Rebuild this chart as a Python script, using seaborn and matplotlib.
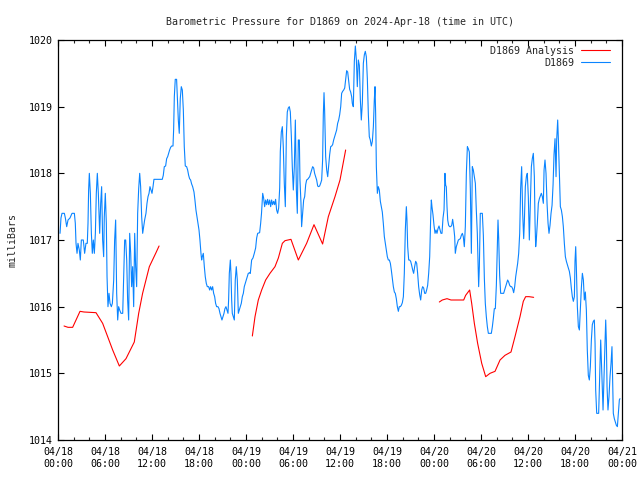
import numpy as np
import pandas as pd
import seaborn as sns
import matplotlib
matplotlib.use("Agg")
import matplotlib.pyplot as plt
from matplotlib.ticker import MultipleLocator

# hours since 04/18 00:00 UTC, pressure in mb
blue_hours = [
    0.26, 0.38, 0.51, 0.81, 0.94, 1.11, 1.28, 1.53, 1.79, 2.09, 2.21, 2.30, 2.43, 2.55, 2.72, 2.85,
    2.98, 3.23, 3.40, 3.57, 3.74, 3.83, 3.91, 4.00, 4.13, 4.26, 4.38, 4.51, 4.64, 4.77, 4.89, 5.02,
    5.15, 5.32, 5.45, 5.57, 5.70, 5.83, 5.91, 6.04, 6.17, 6.26, 6.38, 6.51, 6.64, 6.81, 6.94, 7.11,
    7.23, 7.36, 7.49, 7.62, 7.74, 7.87, 8.04, 8.26, 8.38, 8.51, 8.64, 8.77, 8.89, 9.02, 9.15, 9.28,
    9.40, 9.53, 9.66, 9.79, 9.91, 10.04, 10.17, 10.30, 10.43, 10.55, 10.68, 10.81, 10.94, 11.06,
    11.23, 11.36, 11.49, 11.62, 11.74, 11.87, 12.00, 12.13,
    12.25, 13.31, 13.44, 13.57, 13.74, 13.87, 14.00, 14.12, 14.25, 14.38, 14.51, 14.68, 14.76,
    14.85, 14.97, 15.14, 15.23, 15.36, 15.48, 15.61, 15.74, 15.87, 16.00, 16.12, 16.25, 16.42,
    16.55, 16.68, 16.80, 16.93, 17.06, 17.19, 17.36, 17.48, 17.61, 17.74, 17.87, 18.00, 18.12,
    18.25, 18.34, 18.42, 18.55, 18.68, 18.80, 18.93, 19.06, 19.23, 19.36, 19.48, 19.61, 19.74,
    19.87, 20.00, 20.12, 20.25, 20.42, 20.55, 20.68, 20.80, 20.93, 21.06, 21.19, 21.31, 21.44,
    21.57, 21.70, 21.78, 21.87, 22.00, 22.08, 22.17, 22.25, 22.38, 22.51, 22.63, 22.76, 22.89,
    23.02, 23.14, 23.27, 23.40, 23.53, 23.66, 23.78, 23.91, 24.04, 24.17, 24.29, 24.51,
    24.55, 24.72, 24.89, 25.06, 25.23, 25.36, 25.49, 25.74, 25.87, 25.98, 26.13, 26.25, 26.38,
    26.51, 26.64, 26.76, 26.89, 27.02, 27.15, 27.27, 27.40, 27.53, 27.66, 27.78, 27.91, 28.04,
    28.17, 28.30, 28.38, 28.51, 28.64, 28.76, 28.89, 29.02, 29.15, 29.27, 29.40, 29.53, 29.66,
    29.79, 29.91, 30.04, 30.17, 30.30, 30.43, 30.55, 30.68, 30.81, 30.89, 31.02, 31.10, 31.23,
    31.36, 31.49, 31.62, 31.74, 31.87, 32.00, 32.13, 32.25, 32.38, 32.51, 32.64, 32.76, 32.89,
    33.02, 33.15, 33.27, 33.40, 33.53, 33.66, 33.78, 33.87, 33.96, 34.04, 34.17, 34.30, 34.43,
    34.55, 34.68, 34.81, 34.94, 35.06, 35.19, 35.32, 35.45, 35.57, 35.70, 35.83, 35.96, 36.09,
    36.21, 36.34, 36.47, 36.60,
    36.72, 36.85, 36.98, 37.11, 37.23, 37.36, 37.49, 37.57, 37.70, 37.83, 37.96, 38.09, 38.21,
    38.34, 38.47, 38.60, 38.72, 38.85, 38.98, 39.11, 39.23, 39.36, 39.49, 39.62, 39.74, 39.87,
    40.00, 40.13, 40.26, 40.38, 40.47, 40.55, 40.64, 40.77, 40.89, 41.02, 41.15, 41.28, 41.40,
    41.53, 41.66, 41.79, 41.91, 42.04, 42.17, 42.30, 42.43, 42.55, 42.68, 42.81, 42.94, 43.06,
    43.19, 43.32, 43.45, 43.57, 43.70, 43.83, 43.96, 44.09, 44.21, 44.34, 44.47, 44.55, 44.64,
    44.77, 44.89, 45.02, 45.15, 45.28, 45.40, 45.53, 45.66, 45.79, 45.91, 46.04, 46.17, 46.30,
    46.43, 46.55, 46.68, 46.81, 46.94, 47.06, 47.19, 47.32, 47.45, 47.57, 47.66, 47.74, 47.87,
    48.00, 48.13,
    48.26, 48.38, 48.51, 48.64, 48.77, 48.89, 49.02, 49.15, 49.28, 49.40, 49.49, 49.57, 49.66,
    49.75, 49.87, 50.00, 50.13, 50.26, 50.38, 50.51, 50.64, 50.72, 50.85, 50.98, 51.11, 51.23,
    51.36, 51.49, 51.62, 51.74, 51.87, 52.00, 52.13, 52.26, 52.38, 52.51, 52.64, 52.77, 52.89,
    53.02, 53.15, 53.28, 53.40, 53.53, 53.62, 53.70, 53.79, 53.91, 54.04, 54.17, 54.30, 54.43,
    54.55, 54.68, 54.81, 54.94, 55.06, 55.19, 55.32, 55.45, 55.57, 55.70, 55.83, 55.96, 56.09,
    56.17, 56.26, 56.38, 56.51, 56.64, 56.77, 56.89, 57.02, 57.15, 57.28, 57.40, 57.53, 57.66,
    57.79, 57.91, 58.04, 58.17, 58.30, 58.43, 58.55, 58.68, 58.81, 58.94, 59.06, 59.19, 59.32,
    59.45, 59.53, 59.66, 59.79, 59.91, 60.04, 60.17, 60.30, 60.43, 60.55, 60.68,
    60.81, 60.90, 60.98, 61.06, 61.19, 61.32, 61.45, 61.57, 61.70, 61.83, 61.96, 62.05, 62.17,
    62.30, 62.43, 62.56, 62.68, 62.81, 62.94, 63.07, 63.20, 63.32, 63.45, 63.58, 63.66, 63.79,
    63.88, 64.00, 64.13, 64.26, 64.39, 64.51, 64.64, 64.77, 64.90, 65.02, 65.15, 65.28, 65.41,
    65.53, 65.66, 65.79, 65.92, 66.00, 66.09, 66.17, 66.30, 66.43, 66.56, 66.68, 66.81, 66.94,
    67.07, 67.19, 67.32, 67.45, 67.57, 67.70, 67.83, 67.96, 68.09, 68.21, 68.34, 68.47, 68.56,
    68.64, 68.77, 68.90, 69.02, 69.15, 69.28, 69.36, 69.49, 69.58, 69.70, 69.83, 69.92, 70.00,
    70.09, 70.21, 70.34, 70.47, 70.60, 70.72, 70.81, 70.89, 71.02, 71.15, 71.28, 71.41, 71.53,
    71.66, 71.74,
]
blue_mb = [
    1017.10, 1017.33, 1017.40, 1017.40, 1017.33, 1017.20, 1017.30, 1017.33, 1017.40, 1017.40, 1017.25, 1016.95, 1016.80, 1016.95, 1016.85, 1016.70,
    1017.00, 1017.00, 1016.80, 1016.95, 1016.95, 1017.25, 1017.75, 1018.00, 1017.70, 1017.10, 1016.80, 1017.00, 1016.80, 1017.10, 1017.70, 1018.00,
    1017.70, 1017.10, 1017.55, 1017.80, 1017.00, 1016.75, 1017.35, 1017.70, 1017.25, 1016.45, 1016.00, 1016.20, 1016.05, 1016.00, 1016.05, 1016.40,
    1017.00, 1017.30, 1016.20, 1015.80, 1016.00, 1015.95, 1015.90, 1015.90, 1016.45, 1017.00, 1017.00, 1016.70, 1016.10, 1015.80, 1017.10, 1016.80,
    1016.30, 1016.60, 1016.00, 1017.10, 1016.60, 1016.30, 1017.40, 1017.77, 1018.00, 1017.80, 1017.35, 1017.10, 1017.20, 1017.30,
    1017.40, 1017.55, 1017.65, 1017.70, 1017.80, 1017.75, 1017.70, 1017.80,
    1017.91, 1017.91, 1017.97, 1018.10, 1018.11, 1018.22, 1018.25, 1018.30, 1018.35, 1018.39, 1018.41, 1018.41, 1018.65,
    1019.15, 1019.41, 1019.41, 1019.17, 1018.80, 1018.60, 1019.12, 1019.30, 1019.25, 1018.95, 1018.40, 1018.11, 1018.10,
    1018.05, 1017.97, 1017.92, 1017.90, 1017.84, 1017.80, 1017.72, 1017.60, 1017.45, 1017.35, 1017.25, 1017.15, 1017.00,
    1016.80, 1016.70, 1016.75, 1016.80, 1016.60, 1016.45, 1016.35, 1016.30, 1016.30, 1016.25, 1016.30, 1016.25, 1016.30,
    1016.20, 1016.15, 1016.05, 1016.00, 1016.00, 1015.97, 1015.90, 1015.85, 1015.80, 1015.85, 1015.90, 1015.97, 1016.00,
    1015.95, 1015.90, 1016.10, 1016.50, 1016.70, 1016.50, 1016.10, 1015.90, 1015.85, 1015.80, 1016.40, 1016.60, 1016.40,
    1015.90, 1015.95, 1016.00, 1016.05, 1016.15, 1016.20, 1016.30, 1016.35, 1016.40, 1016.45, 1016.50, 1016.51,
    1016.50, 1016.70, 1016.73, 1016.80, 1016.88, 1017.03, 1017.10, 1017.11, 1017.25, 1017.40, 1017.70, 1017.63, 1017.50,
    1017.60, 1017.53, 1017.61, 1017.53, 1017.60, 1017.50, 1017.60, 1017.53, 1017.58, 1017.53, 1017.61, 1017.45, 1017.40,
    1017.48, 1017.78, 1018.33, 1018.62, 1018.70, 1018.40, 1017.85, 1017.50, 1018.55, 1018.92, 1018.98, 1019.00, 1018.92,
    1018.55, 1018.10, 1017.75, 1018.10, 1018.80, 1017.75, 1017.40, 1018.50, 1018.50, 1017.90, 1017.55, 1017.20, 1017.40,
    1017.60, 1017.65, 1017.83, 1017.90, 1017.91, 1017.93, 1017.95, 1018.00, 1018.05, 1018.10, 1018.08, 1018.00, 1017.95,
    1017.90, 1017.81, 1017.80, 1017.81, 1017.85, 1017.90, 1018.20, 1018.88, 1019.21, 1018.93, 1018.25, 1018.05, 1017.95,
    1018.10, 1018.28, 1018.40, 1018.41, 1018.43, 1018.50, 1018.55, 1018.60, 1018.65, 1018.75, 1018.80, 1018.88, 1019.00,
    1019.20, 1019.23, 1019.25, 1019.28,
    1019.40, 1019.54, 1019.52, 1019.38, 1019.26, 1019.22, 1019.15, 1019.05, 1019.00, 1019.68, 1019.91, 1019.70, 1019.30,
    1019.70, 1019.62, 1019.10, 1018.80, 1019.05, 1019.65, 1019.78, 1019.83, 1019.75, 1019.42, 1018.88, 1018.55, 1018.50,
    1018.41, 1018.48, 1018.70, 1019.10, 1019.30, 1018.90, 1018.10, 1017.70, 1017.80, 1017.75, 1017.58, 1017.50, 1017.42,
    1017.25, 1017.05, 1016.95, 1016.85, 1016.75, 1016.70, 1016.70, 1016.65, 1016.55, 1016.42, 1016.30, 1016.22, 1016.20,
    1016.12, 1016.00, 1015.93, 1016.00, 1016.00, 1016.02, 1016.06, 1016.15, 1016.50, 1017.15, 1017.50, 1017.30, 1016.90,
    1016.70, 1016.70, 1016.68, 1016.62, 1016.55, 1016.50, 1016.60, 1016.68, 1016.65, 1016.50, 1016.30, 1016.18, 1016.10,
    1016.25, 1016.30, 1016.28, 1016.20, 1016.20, 1016.25, 1016.32, 1016.50, 1016.75, 1017.30, 1017.60, 1017.50, 1017.38,
    1017.22, 1017.10,
    1017.15, 1017.10, 1017.17, 1017.21, 1017.15, 1017.10, 1017.10, 1017.33, 1017.45, 1018.00, 1017.82, 1017.80, 1017.50,
    1017.30, 1017.22, 1017.20, 1017.20, 1017.22, 1017.31, 1017.20, 1017.05, 1016.80, 1016.90, 1016.95, 1017.00, 1017.01,
    1017.02, 1017.07, 1017.10, 1017.05, 1016.90, 1017.20, 1018.00, 1018.40, 1018.37, 1018.32, 1017.75, 1016.80, 1018.10,
    1018.05, 1017.95, 1017.85, 1017.45, 1017.10, 1016.70, 1016.30, 1016.60, 1017.40, 1017.40, 1017.40, 1017.07, 1016.42,
    1016.05, 1015.85, 1015.70, 1015.60, 1015.60, 1015.60, 1015.60, 1015.70, 1015.82, 1015.97, 1015.97, 1016.32, 1016.97,
    1017.30, 1017.02, 1016.47, 1016.20, 1016.20, 1016.20, 1016.20, 1016.25, 1016.30, 1016.35, 1016.40, 1016.37, 1016.32,
    1016.30, 1016.30, 1016.27, 1016.21, 1016.30, 1016.45, 1016.55, 1016.65, 1016.80, 1017.10, 1017.77, 1018.10, 1017.40,
    1017.02, 1017.25, 1017.80, 1017.95, 1018.00, 1017.65, 1017.00, 1017.55, 1018.10, 1018.22, 1018.30,
    1017.95, 1017.25, 1016.90, 1017.00, 1017.25, 1017.55, 1017.62, 1017.66, 1017.70, 1017.65, 1017.55, 1018.05, 1018.20,
    1018.00, 1017.55, 1017.25, 1017.10, 1017.22, 1017.40, 1017.52, 1017.83, 1018.28, 1018.52, 1017.95, 1018.50, 1018.80,
    1018.50, 1018.00, 1017.50, 1017.45, 1017.35, 1017.20, 1016.95, 1016.75, 1016.68, 1016.63, 1016.58, 1016.53, 1016.43,
    1016.28, 1016.15, 1016.08, 1016.15, 1016.68, 1016.90, 1016.60, 1016.00, 1015.70, 1015.65, 1015.95, 1016.28, 1016.50,
    1016.40, 1016.10, 1016.22, 1015.95, 1015.35, 1014.97, 1014.90, 1015.10, 1015.50, 1015.73, 1015.78, 1015.80, 1015.45,
    1014.75, 1014.40, 1014.40, 1014.40, 1014.95, 1015.50, 1015.22, 1014.75, 1014.45, 1014.95, 1015.45, 1015.80, 1015.50,
    1014.80, 1014.45, 1014.65, 1014.95, 1015.15, 1015.40, 1014.85, 1014.40, 1014.32, 1014.27, 1014.22, 1014.20, 1014.40,
    1014.60, 1014.62,
]

# analysis, three pieces with gaps between them
red_hours_1 = [0.77, 1.28, 1.87, 2.81, 3.32, 4.85, 5.70, 6.34, 6.98, 7.83, 8.68, 9.74, 10.30, 10.80, 11.66, 12.51, 12.90]
red_mb_1 = [1015.71, 1015.69, 1015.69, 1015.93, 1015.92, 1015.91, 1015.75, 1015.55, 1015.35, 1015.11, 1015.22,
            1015.47, 1015.90, 1016.20, 1016.60, 1016.81, 1016.91]
red_hours_2 = [24.81, 25.15, 25.57, 26.00, 26.51, 27.06, 27.70, 28.13, 28.64, 28.98, 29.74, 30.68, 31.74, 32.68,
               33.78, 34.51, 35.36, 36.00, 36.72]
red_mb_2 = [1015.56, 1015.85, 1016.10, 1016.25, 1016.40, 1016.50, 1016.60, 1016.73, 1016.95, 1016.99, 1017.01,
            1016.70, 1016.95, 1017.23, 1016.94, 1017.35, 1017.65, 1017.90, 1018.35]
red_hours_3 = [48.68, 49.06, 49.66, 50.17, 51.79, 52.04, 52.55, 52.81, 53.15, 53.57, 54.09, 54.60, 55.15, 55.79,
               56.43, 57.06, 57.83, 58.34, 58.98, 59.40, 59.70, 60.13, 60.72]
red_mb_3 = [1016.07, 1016.10, 1016.12, 1016.10, 1016.10, 1016.17, 1016.25, 1016.05, 1015.75, 1015.45, 1015.15,
            1014.95, 1015.00, 1015.03, 1015.20, 1015.27, 1015.32, 1015.55, 1015.85, 1016.08, 1016.15, 1016.15, 1016.14]

station = "D1869"
tick_hours = list(range(0, 73, 6))

sns.set_style("ticks")
plt.rcParams['font.family'] = ['DejaVu Sans Mono']
plt.rcParams['font.size'] = 7.2

fig = plt.figure(figsize=(6.4, 4.8), dpi=100)
ax = fig.add_axes([58 / 640, 40 / 480, 564 / 640, 400 / 480])

red_parts = [(red_hours_1, red_mb_1), (red_hours_2, red_mb_2), (red_hours_3, red_mb_3)]
for i, (hh, mb) in enumerate(red_parts):
    df = pd.DataFrame({"hour": hh, "mb": mb})
    sns.lineplot(data=df, x="hour", y="mb", ax=ax, color="#ff0000", lw=0.8,
                 label=station + " Analysis" if i == 0 else None, estimator=None, sort=False)

blue_df = pd.DataFrame({"hour": blue_hours, "mb": blue_mb})
sns.lineplot(data=blue_df, x="hour", y="mb", ax=ax, color="#0a84ff", lw=0.8,
             label=station, estimator=None, sort=False)

ax.set_xlim(0, 72)
ax.set_ylim(1014, 1020)
ax.set_xticks(tick_hours)
ax.set_xticklabels(["04/%02d\n%02d:00" % (18 + h // 24, h % 24) for h in tick_hours], linespacing=1.3)
ax.xaxis.set_minor_locator(MultipleLocator(2))
ax.set_yticks(range(1014, 1021))
ax.tick_params(which="major", direction="in", length=4, width=0.8, top=True, right=True,
               labelsize=7.2, colors="black")
ax.tick_params(axis="x", which="major", pad=5)
ax.tick_params(axis="y", which="major", pad=4)
ax.tick_params(which="minor", direction="in", length=2, width=0.8, top=True)
for sp in ax.spines.values():
    sp.set_linewidth(0.9)
    sp.set_color("black")

ax.set_xlabel("")
ax.set_ylabel("milliBars", fontsize=7.2)
ax.yaxis.set_label_coords(-0.072, 0.5)
ax.set_title("Barometric Pressure for %s on 2024-Apr-18 (time in UTC)" % station, fontsize=7.2, pad=11)

ax.legend(loc="upper right", bbox_to_anchor=(1 - 12 / 564, 1 - 6 / 400), frameon=False, markerfirst=False,
          handlelength=2.9, handletextpad=0.7, borderaxespad=0, borderpad=0, labelspacing=0.2, fontsize=7.2)

fig.savefig("out.png", dpi=100)
